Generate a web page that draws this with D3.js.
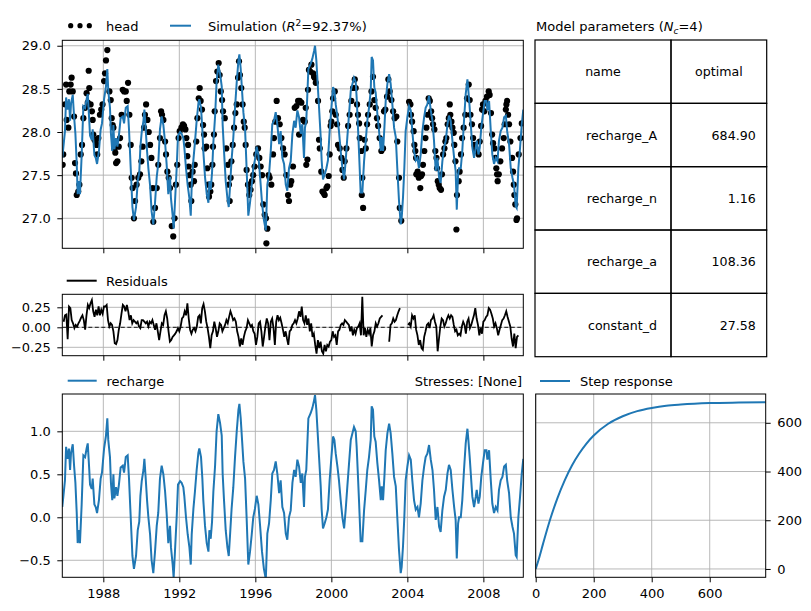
<!DOCTYPE html>
<html>
<head>
<meta charset="utf-8">
<style>
  body { margin: 0; background: #fff; }
  svg { display: block; font-family: "DejaVu Sans", sans-serif; }
</style>
</head>
<body>
<svg></svg>
<script src="https://cdn.jsdelivr.net/npm/d3@7"></script>
<script>
// ---- data (decimal years) ----
// recharge contribution [year, value]
const rechargeSeries = [
  [1985.84,0.12],[1985.98,0.43],[1986.04,0.82],[1986.12,0.68],[1986.19,0.80],[1986.25,0.55],[1986.30,0.75],[1986.39,0.85],
  [1986.46,0.60],[1986.53,0.40],[1986.60,0.05],[1986.65,-0.30],[1986.72,-0.15],[1986.77,-0.30],[1986.86,0.15],[1986.95,0.72],
  [1987.04,0.70],[1987.12,0.80],[1987.18,0.86],[1987.26,0.55],[1987.30,0.38],[1987.39,0.33],[1987.44,0.45],[1987.53,0.15],
  [1987.60,0.12],[1987.67,0.05],[1987.77,0.20],[1987.86,0.45],[1987.93,0.52],[1988.04,0.80],[1988.14,0.95],[1988.21,1.15],
  [1988.26,0.90],[1988.35,0.70],[1988.40,0.40],[1988.47,0.20],[1988.53,0.50],[1988.58,0.22],[1988.67,0.35],[1988.74,0.25],
  [1988.82,0.38],[1988.91,0.58],[1989.02,0.60],[1989.09,0.52],[1989.18,0.70],[1989.28,0.72],[1989.35,0.45],[1989.44,0.00],
  [1989.53,-0.45],[1989.61,-0.60],[1989.72,-0.45],[1989.81,-0.15],[1989.89,-0.05],[1989.95,0.25],[1990.02,0.42],[1990.11,0.55],
  [1990.16,0.68],[1990.23,0.45],[1990.30,0.20],[1990.37,0.00],[1990.46,-0.20],[1990.54,-0.50],[1990.63,-0.65],[1990.72,-0.40],
  [1990.81,-0.10],[1990.89,0.05],[1990.98,0.45],[1991.07,0.60],[1991.16,0.50],[1991.25,0.30],[1991.33,0.05],[1991.42,-0.30],
  [1991.51,-0.10],[1991.56,-0.35],[1991.65,-0.55],[1991.70,-0.70],[1991.77,-0.40],[1991.86,0.00],[1991.93,0.38],[1992.04,0.42],
  [1992.12,0.40],[1992.21,0.35],[1992.26,0.25],[1992.35,0.00],[1992.44,-0.20],[1992.53,-0.35],[1992.60,-0.55],[1992.65,-0.20],
  [1992.74,0.10],[1992.82,0.30],[1992.91,0.55],[1993.00,0.75],[1993.05,0.80],[1993.14,0.70],[1993.21,0.45],[1993.26,0.20],
  [1993.35,-0.10],[1993.44,-0.30],[1993.53,-0.40],[1993.58,-0.15],[1993.65,-0.25],[1993.72,-0.05],[1993.79,0.30],[1993.88,0.60],
  [1993.96,1.00],[1994.05,1.20],[1994.14,1.10],[1994.23,0.95],[1994.28,0.50],[1994.35,0.20],[1994.44,-0.15],[1994.53,-0.35],
  [1994.60,-0.45],[1994.67,-0.20],[1994.75,0.10],[1994.84,0.35],[1994.93,0.70],[1995.02,1.00],[1995.11,1.25],[1995.16,1.32],
  [1995.23,1.15],[1995.30,0.90],[1995.37,0.65],[1995.46,0.45],[1995.54,0.00],[1995.63,-0.55],[1995.72,-0.40],[1995.81,-0.20],
  [1995.89,0.00],[1995.98,0.10],[1996.07,0.25],[1996.16,0.15],[1996.25,-0.10],[1996.35,-0.40],[1996.45,-0.60],[1996.55,-0.72],
  [1996.63,-0.19],[1996.72,-0.07],[1996.81,0.20],[1996.89,0.51],[1996.98,0.55],[1997.07,0.65],[1997.16,0.50],[1997.25,0.28],
  [1997.33,0.43],[1997.42,0.12],[1997.51,0.05],[1997.60,-0.19],[1997.68,-0.26],[1997.77,0.00],[1997.86,0.08],[1997.95,0.40],
  [1998.04,0.55],[1998.12,0.47],[1998.21,0.67],[1998.30,0.59],[1998.39,0.40],[1998.47,0.51],[1998.56,0.12],[1998.61,0.47],
  [1998.68,0.55],[1998.79,1.15],[1998.91,1.21],[1999.00,1.27],[1999.09,1.36],[1999.14,1.42],[1999.21,1.25],[1999.28,0.98],
  [1999.35,0.71],[1999.44,0.36],[1999.49,0.09],[1999.56,-0.13],[1999.65,-0.07],[1999.74,0.00],[1999.82,0.09],[1999.91,0.43],
  [2000.00,0.69],[2000.09,0.94],[2000.16,0.90],[2000.23,0.74],[2000.32,0.59],[2000.40,0.43],[2000.49,0.20],[2000.58,0.00],
  [2000.67,-0.13],[2000.75,0.08],[2000.84,0.36],[2000.93,0.63],[2001.02,0.90],[2001.11,0.98],[2001.19,1.05],[2001.28,1.00],
  [2001.33,0.82],[2001.40,0.47],[2001.46,0.16],[2001.54,-0.28],[2001.63,-0.28],[2001.72,0.08],[2001.81,0.32],[2001.89,0.55],
  [2001.98,0.70],[2002.07,0.90],[2002.12,1.29],[2002.19,1.25],[2002.26,0.94],[2002.33,0.88],[2002.42,0.63],[2002.51,0.43],
  [2002.60,0.20],[2002.65,0.36],[2002.72,0.20],[2002.79,0.47],[2002.86,0.78],[2002.95,0.98],[2003.04,1.09],[2003.12,0.98],
  [2003.21,0.74],[2003.30,0.47],[2003.39,0.36],[2003.47,0.00],[2003.56,-0.38],[2003.65,-0.65],[2003.70,-0.58],[2003.77,-0.34],
  [2003.84,0.00],[2003.91,0.43],[2004.00,0.59],[2004.09,0.72],[2004.18,0.67],[2004.26,0.43],[2004.35,0.20],[2004.44,0.09],
  [2004.53,0.12],[2004.61,0.00],[2004.70,0.16],[2004.79,0.43],[2004.88,0.59],[2004.96,0.70],[2005.05,0.74],[2005.14,0.84],
  [2005.23,0.67],[2005.32,0.55],[2005.40,0.32],[2005.49,-0.03],[2005.58,0.12],[2005.67,-0.11],[2005.75,-0.17],[2005.84,0.08],
  [2005.93,0.24],[2006.02,0.32],[2006.11,0.51],[2006.19,0.61],[2006.28,0.55],[2006.37,0.32],[2006.46,0.12],[2006.54,-0.03],
  [2006.60,-0.48],[2006.67,-0.07],[2006.72,0.00],[2006.81,0.00],[2006.89,0.20],[2006.98,0.55],[2007.07,0.86],[2007.16,1.03],
  [2007.21,0.90],[2007.28,0.70],[2007.37,0.40],[2007.42,0.24],[2007.51,0.12],[2007.60,0.24],[2007.65,0.32],[2007.74,0.16],
  [2007.81,0.24],[2007.89,0.47],[2007.98,0.63],[2008.07,0.78],[2008.16,0.78],[2008.21,0.67],[2008.30,0.78],[2008.39,0.43],
  [2008.47,0.16],[2008.56,0.05],[2008.65,0.12],[2008.74,0.08],[2008.82,0.32],[2008.91,0.43],[2009.00,0.47],[2009.09,0.59],
  [2009.18,0.61],[2009.25,0.43],[2009.35,0.28],[2009.44,0.00],[2009.53,-0.11],[2009.61,-0.19],[2009.70,-0.44],[2009.75,-0.46],
  [2009.84,0.00],[2009.93,0.24],[2010.02,0.51],[2010.10,0.68]
];

// observed heads [year, head]
const headObs = [
  [1985.86,27.62],[1985.89,27.74],[1985.98,28.32],[1986.04,28.55],[1986.07,28.14],[1986.16,28.05],[1986.21,28.47],[1986.28,28.55],
  [1986.33,28.63],[1986.39,28.47],[1986.46,28.18],[1986.51,27.64],[1986.56,27.52],[1986.60,27.27],[1986.68,27.31],[1986.74,27.39],
  [1986.81,27.74],[1986.88,27.85],[1986.95,28.16],[1987.04,28.28],[1987.12,28.45],[1987.18,28.34],[1987.23,28.71],[1987.26,28.51],
  [1987.33,28.32],[1987.40,28.24],[1987.44,28.14],[1987.47,27.97],[1987.53,27.91],[1987.60,27.89],[1987.65,27.85],[1987.68,27.74],
  [1987.74,27.93],[1987.82,28.20],[1987.89,28.26],[1987.96,28.32],[1988.04,28.59],[1988.09,28.68],[1988.14,28.83],[1988.21,28.95],
  [1988.32,28.47],[1988.39,28.37],[1988.44,28.16],[1988.49,28.08],[1988.53,28.05],[1988.58,27.81],[1988.63,27.76],[1988.67,27.64],
  [1988.74,27.66],[1988.81,27.83],[1988.88,27.93],[1988.96,28.20],[1989.02,28.49],[1989.09,28.47],[1989.18,28.47],[1989.23,28.36],
  [1989.30,28.57],[1989.37,28.20],[1989.44,27.85],[1989.49,27.47],[1989.54,27.35],[1989.61,27.00],[1989.67,27.20],[1989.75,27.39],
  [1989.84,27.47],[1989.93,27.51],[1990.00,27.66],[1990.07,27.83],[1990.14,28.05],[1990.19,28.20],[1990.25,28.32],[1990.32,28.14],
  [1990.39,28.00],[1990.46,27.85],[1990.53,27.70],[1990.60,27.35],[1990.63,26.96],[1990.72,27.12],[1990.81,27.35],[1990.89,27.62],
  [1990.98,27.93],[1991.04,28.24],[1991.09,28.20],[1991.16,28.14],[1991.25,27.89],[1991.30,27.74],[1991.37,27.54],[1991.44,27.47],
  [1991.51,27.35],[1991.60,26.91],[1991.68,26.79],[1991.75,27.00],[1991.82,27.39],[1991.89,27.62],[1991.96,27.93],[1992.02,28.01],
  [1992.11,28.05],[1992.19,28.09],[1992.25,28.07],[1992.32,28.03],[1992.37,27.93],[1992.42,27.72],[1992.46,27.85],[1992.49,27.60],
  [1992.54,27.50],[1992.60,27.39],[1992.63,27.20],[1992.70,27.54],[1992.77,27.43],[1992.81,27.62],[1992.89,27.89],[1992.95,28.16],
  [1993.02,28.39],[1993.07,28.51],[1993.12,28.36],[1993.19,28.26],[1993.25,28.08],[1993.30,27.97],[1993.33,27.81],[1993.42,27.83],
  [1993.47,27.58],[1993.51,27.39],[1993.56,27.25],[1993.63,27.31],[1993.68,27.39],[1993.74,27.62],[1993.77,27.83],[1993.82,27.97],
  [1993.86,28.24],[1993.93,28.59],[1994.00,28.70],[1994.07,28.80],[1994.12,28.66],[1994.18,28.47],[1994.25,28.37],[1994.30,28.24],
  [1994.39,28.16],[1994.47,27.81],[1994.56,27.62],[1994.61,27.39],[1994.65,27.20],[1994.70,27.47],[1994.74,27.66],[1994.81,27.85],
  [1994.88,28.05],[1994.95,28.22],[1995.02,28.32],[1995.09,28.63],[1995.14,28.82],[1995.19,28.66],[1995.26,28.51],[1995.33,28.32],
  [1995.39,28.12],[1995.44,28.05],[1995.49,27.85],[1995.54,27.56],[1995.61,27.39],[1995.68,27.27],[1995.75,27.33],[1995.82,27.43],
  [1995.89,27.50],[1995.96,27.60],[1996.05,27.74],[1996.14,27.81],[1996.21,27.70],[1996.28,27.60],[1996.35,27.50],[1996.42,27.16],
  [1996.49,27.04],[1996.56,27.00],[1996.58,26.71],[1996.63,26.88],[1996.70,27.50],[1996.75,27.47],[1996.84,27.39],[1996.93,27.74],
  [1996.98,27.93],[1997.05,28.12],[1997.12,28.36],[1997.19,28.16],[1997.28,28.09],[1997.37,27.93],[1997.46,27.81],[1997.54,27.74],
  [1997.63,27.50],[1997.72,27.27],[1997.77,27.20],[1997.84,27.39],[1997.89,27.43],[1997.98,27.60],[1998.07,28.28],[1998.16,28.30],
  [1998.25,28.36],[1998.30,27.97],[1998.33,28.36],[1998.42,28.34],[1998.51,28.14],[1998.60,28.12],[1998.65,28.28],[1998.68,27.62],
  [1998.74,27.68],[1998.77,28.49],[1998.82,28.72],[1998.89,28.70],[1998.95,28.78],[1999.04,28.68],[1999.09,28.64],[1999.12,28.63],
  [1999.18,28.57],[1999.30,28.36],[1999.35,27.91],[1999.39,27.81],[1999.47,27.54],[1999.53,27.31],[1999.60,27.29],[1999.65,27.27],
  [1999.74,27.35],[1999.79,27.37],[1999.86,27.49],[1999.91,27.74],[1999.96,28.07],[2000.00,28.12],[2000.05,28.24],[2000.09,28.39],
  [2000.18,28.47],[2000.23,28.20],[2000.30,28.09],[2000.35,27.85],[2000.44,27.81],[2000.53,27.70],[2000.58,27.56],[2000.65,27.47],
  [2000.70,27.66],[2000.79,27.81],[2000.88,28.07],[2000.96,28.20],[2001.05,28.36],[2001.14,28.51],[2001.23,28.61],[2001.28,28.51],
  [2001.35,28.32],[2001.40,28.20],[2001.46,28.10],[2001.49,27.93],[2001.58,27.78],[2001.60,27.27],[2001.63,27.47],[2001.67,27.12],
  [2001.75,27.91],[2001.81,27.81],[2001.88,28.09],[2001.93,28.20],[2002.02,28.32],[2002.11,28.47],[2002.19,28.64],[2002.26,28.37],
  [2002.33,28.28],[2002.40,28.16],[2002.46,28.07],[2002.54,27.93],[2002.63,27.78],[2002.72,27.81],[2002.77,28.24],[2002.84,28.26],
  [2002.93,28.41],[2003.00,28.61],[2003.07,28.47],[2003.16,28.37],[2003.25,28.24],[2003.33,28.16],[2003.42,28.18],[2003.47,27.89],
  [2003.56,27.47],[2003.60,27.12],[2003.68,26.97],[2004.09,28.35],[2004.16,28.32],[2004.19,28.20],[2004.25,28.12],[2004.33,28.01],
  [2004.37,27.85],[2004.42,27.78],[2004.46,27.70],[2004.47,27.51],[2004.54,27.54],[2004.60,27.47],[2004.68,27.35],[2004.72,27.49],
  [2004.77,27.51],[2004.82,27.62],[2004.89,27.78],[2004.95,27.93],[2005.00,28.05],[2005.07,28.20],[2005.12,28.39],[2005.18,28.36],
  [2005.25,28.24],[2005.30,28.16],[2005.35,28.09],[2005.42,28.03],[2005.47,27.78],[2005.53,27.70],[2005.56,27.58],[2005.60,27.43],
  [2005.65,27.39],[2005.70,27.35],[2005.77,27.33],[2005.82,27.51],[2005.88,27.74],[2005.95,27.81],[2006.00,27.89],[2006.05,27.93],
  [2006.12,28.09],[2006.18,28.16],[2006.23,28.32],[2006.26,28.20],[2006.32,28.12],[2006.37,28.05],[2006.44,27.99],[2006.47,27.85],
  [2006.53,27.66],[2006.58,26.87],[2006.61,27.27],[2006.70,27.43],[2006.75,27.54],[2006.82,27.74],[2006.88,27.93],[2006.96,28.05],
  [2007.05,28.20],[2007.14,28.39],[2007.23,28.55],[2007.28,28.37],[2007.32,28.20],[2007.40,28.09],[2007.46,27.93],[2007.53,27.85],
  [2007.58,27.81],[2007.67,27.78],[2007.75,27.74],[2007.81,27.89],[2007.88,28.07],[2007.93,28.26],[2007.98,28.32],[2008.05,28.24],
  [2008.11,28.36],[2008.19,28.41],[2008.28,28.47],[2008.33,28.43],[2008.40,28.22],[2008.46,27.97],[2008.51,27.87],[2008.58,27.81],
  [2008.63,27.70],[2008.68,27.58],[2008.72,27.51],[2008.75,27.43],[2008.81,27.51],[2008.89,27.66],[2008.98,27.81],[2009.07,27.93],
  [2009.12,28.09],[2009.18,28.26],[2009.21,28.32],[2009.25,28.36],[2009.30,28.20],[2009.35,28.09],[2009.42,27.89],[2009.51,27.70],
  [2009.56,27.54],[2009.60,27.39],[2009.63,27.27],[2009.68,27.16],[2009.74,26.98],[2009.77,27.00],[2009.86,27.74],[2009.95,27.93],
  [2010.02,28.10]
];

// residuals, evenly spaced between resStart and resEnd (null = no observation)
const resStart = 1985.91, resEnd = 2009.84;
const residuals = [
  0.07,0.15,0.16,-0.15,0.26,0.24,0.09,0.05,-0.01,0.03,0.01,0.05,0.08,0.12,0.15,0.09,-0.03,0.15,0.28,0.24,
  0.30,0.34,0.20,0.13,0.22,0.15,0.26,0.15,0.22,0.17,0.26,0.26,0.28,0.09,0.01,0.05,0.03,-0.05,-0.20,-0.21,
  -0.16,-0.03,0.05,0.17,0.28,0.26,0.20,0.28,0.20,0.09,0.15,0.05,0.09,0.07,0.05,0.07,0.01,-0.01,0.09,0.09,
  0.07,0.05,0.07,0.01,0.07,0.05,0.09,0.03,-0.03,0.05,-0.05,-0.16,-0.05,0.05,0.03,0.15,0.20,0.11,-0.05,-0.18,
  -0.16,-0.12,-0.10,-0.08,-0.05,-0.01,-0.05,0.01,0.11,0.13,0.20,0.15,0.30,0.11,-0.03,-0.08,-0.03,-0.01,-0.05,0.01,
  0.13,0.15,0.05,0.24,0.29,0.20,0.07,-0.01,-0.12,-0.26,-0.10,-0.05,0.07,-0.01,-0.12,-0.05,0.05,0.03,-0.05,-0.01,
  0.03,0.09,0.05,0.13,0.20,0.15,0.09,0.11,0.07,-0.05,-0.12,-0.24,-0.14,-0.22,-0.12,-0.05,-0.01,0.09,0.05,0.01,
  0.03,-0.05,-0.08,-0.22,-0.12,0.05,0.07,-0.05,-0.24,-0.12,0.01,0.11,0.05,-0.16,0.07,0.11,-0.01,-0.22,0.07,0.15,
  0.09,0.12,0.05,-0.03,-0.12,-0.05,-0.14,-0.22,-0.05,-0.03,0.03,0.05,0.09,0.05,0.11,0.20,0.13,0.26,0.09,0.05,
  0.15,0.03,0.11,-0.05,0.05,-0.12,-0.08,-0.22,-0.33,-0.16,-0.26,-0.18,-0.30,-0.33,-0.22,-0.30,-0.22,-0.24,-0.18,-0.16,
  -0.05,-0.12,-0.10,-0.22,-0.05,-0.03,0.03,0.05,0.03,0.09,0.07,0.05,0.03,-0.05,0.01,-0.10,-0.03,-0.08,-0.01,0.01,
  0.05,-0.10,0.38,-0.10,-0.01,-0.12,-0.03,-0.08,-0.01,-0.24,-0.10,-0.05,0.05,0.01,0.05,0.11,0.13,0.15,null,null,
  null,null,-0.18,0.03,0.05,0.11,0.07,0.09,0.15,0.20,0.24,null,null,null,null,null,0.03,0.05,0.01,0.15,
  0.11,0.15,-0.03,-0.10,-0.22,-0.16,-0.26,-0.28,-0.12,-0.05,0.03,0.05,-0.01,0.09,0.11,0.15,0.07,0.01,-0.30,-0.14,
  0.01,0.11,0.09,0.01,0.05,0.11,0.15,0.11,0.15,0.13,0.03,-0.05,-0.03,-0.10,-0.08,-0.10,0.01,0.07,0.03,-0.08,
  0.07,0.11,-0.01,0.03,0.09,0.15,0.24,0.11,0.03,-0.10,-0.01,-0.08,0.07,0.09,0.13,0.15,0.24,0.22,0.17,0.11,
  0.01,0.05,-0.01,-0.10,-0.03,0.03,0.09,0.11,0.15,0.20,0.13,0.07,0.01,-0.14,-0.24,-0.08,-0.26,-0.12,-0.10
];

// step response [days, value]
const stepDays = [0, 10, 25, 50, 75, 100, 125, 150, 175, 200, 250, 300, 350, 400, 450, 500, 600, 700, 793];
const stepVals = [0, 38, 102, 204, 291, 364, 425, 474, 515, 548, 596, 627, 648, 661, 670, 675, 681, 683, 684];

// parameter table
const paramNames = ["recharge_A", "recharge_n", "recharge_a", "constant_d"];
const paramValues = ["684.90", "1.16", "108.36", "27.58"];
const fitR2 = "92.37%";

// axis limits and ticks
const timeLim = [1985.84, 2010.1];
const headLim = [26.652, 29.063];
const resLim = [-0.355, 0.4125];
const rechLim = [-0.698, 1.434];
const stepXLim = [0, 793];
const yearTicks = [1988, 1992, 1996, 2000, 2004, 2008];
const headTicks = [27.0, 27.5, 28.0, 28.5, 29.0];
const resTicks = [-0.25, 0, 0.25];
const rechTicks = [-0.5, 0, 0.5, 1.0];
const stepTicks = [0, 200, 400, 600];

// ---- drawing ----
const W = 811, H = 611;
const blue = '#1f77b4', gridCol = '#b0b0b0';
const FS = 13;
const svg = d3.select('svg').attr('width', W).attr('height', H);

function toDate(y) {
  const yr = Math.floor(y);
  const s = new Date(yr, 0, 1), e = new Date(yr + 1, 0, 1);
  return new Date(+s + (y - yr) * (e - s));
}

const boxHead = {l: 62.3, r: 523.3, t: 40.3, b: 248.3};
const boxRes  = {l: 62.3, r: 523.3, t: 294.3, b: 355.7};
const boxRech = {l: 62.3, r: 523.3, t: 394, b: 577.3};
const boxStep = {l: 535.7, r: 765.7, t: 394, b: 577.3};

const x = d3.scaleTime().domain(timeLim.map(toDate)).range([boxHead.l, boxHead.r]);
const yHead = d3.scaleLinear().domain(headLim).range([boxHead.b, boxHead.t]);
const yRes = d3.scaleLinear().domain(resLim).range([boxRes.b, boxRes.t]);
const yRech = d3.scaleLinear().domain(rechLim).range([boxRech.b, boxRech.t]);

const stepMax = d3.max(stepVals);
const xStep = d3.scaleLinear().domain(stepXLim).range([boxStep.l, boxStep.r]);
const yStep = d3.scaleLinear().domain([-0.05 * stepMax, stepMax * 1.05]).range([boxStep.b, boxStep.t]);

const defs = svg.append('defs');
function clip(id, b) {
  defs.append('clipPath').attr('id', id).append('rect')
    .attr('x', b.l).attr('y', b.t).attr('width', b.r - b.l).attr('height', b.b - b.t);
  return 'url(#' + id + ')';
}

function grid(b, xs, xv, ys, yv) {
  const g = svg.append('g').attr('stroke', gridCol).attr('stroke-width', 0.9);
  g.selectAll('.gx').data(xv).join('line')
    .attr('x1', d => xs(d)).attr('x2', d => xs(d)).attr('y1', b.t).attr('y2', b.b);
  g.selectAll('.gy').data(yv).join('line')
    .attr('x1', b.l).attr('x2', b.r).attr('y1', d => ys(d)).attr('y2', d => ys(d));
}

function frame(b) {
  svg.append('rect').attr('x', b.l).attr('y', b.t).attr('width', b.r - b.l).attr('height', b.b - b.t)
    .attr('fill', 'none').attr('stroke', '#000').attr('stroke-width', 1);
}

function styleAxis(g) {
  g.attr('font-size', FS).attr('font-family', '"DejaVu Sans", sans-serif');
  g.select('.domain').remove();
  g.selectAll('.tick line').attr('stroke', '#000').attr('stroke-width', 1);
  g.selectAll('.tick text').attr('fill', '#000');
}

const yearDates = yearTicks.map(toDate);

// top panel: heads + simulation
const constantD = +paramValues[3];
const simulation = rechargeSeries.map(d => [d[0], d[1] + constantD]);

grid(boxHead, x, yearDates, yHead, headTicks);
const gHead = svg.append('g').attr('clip-path', clip('cHead', boxHead));
gHead.selectAll('circle').data(headObs).join('circle')
  .attr('cx', d => x(toDate(d[0]))).attr('cy', d => yHead(d[1])).attr('r', 3.1).attr('fill', '#000');
gHead.append('path').datum(simulation)
  .attr('d', d3.line().x(d => x(toDate(d[0]))).y(d => yHead(d[1])))
  .attr('fill', 'none').attr('stroke', blue).attr('stroke-width', 2);
frame(boxHead);
svg.append('g').attr('transform', `translate(${boxHead.l},0)`)
  .call(d3.axisLeft(yHead).tickValues(headTicks).tickFormat(d3.format('.1f')).tickSize(5).tickPadding(6.5)).call(styleAxis);
svg.append('g').attr('transform', `translate(0,${boxHead.b})`)
  .call(d3.axisBottom(x).tickValues(yearDates).tickFormat('').tickSize(5)).call(styleAxis);

// residual panel
grid(boxRes, x, yearDates, yRes, resTicks);
const nRes = residuals.length;
const resDates = residuals.map((v, i) => resStart + (resEnd - resStart) * i / (nRes - 1));
const gRes = svg.append('g').attr('clip-path', clip('cRes', boxRes));
gRes.append('line').attr('x1', boxRes.l).attr('x2', boxRes.r).attr('y1', yRes(0)).attr('y2', yRes(0))
  .attr('stroke', '#000').attr('stroke-width', 0.9).attr('stroke-dasharray', '4,2.5');
gRes.append('path').datum(residuals.map((v, i) => [resDates[i], v]))
  .attr('d', d3.line().defined(d => d[1] !== null).x(d => x(toDate(d[0]))).y(d => yRes(d[1])))
  .attr('fill', 'none').attr('stroke', '#000').attr('stroke-width', 1.8);
frame(boxRes);
svg.append('g').attr('transform', `translate(${boxRes.l},0)`)
  .call(d3.axisLeft(yRes).tickValues(resTicks).tickFormat(d3.format('.2f')).tickSize(5).tickPadding(6.5)).call(styleAxis);
svg.append('g').attr('transform', `translate(0,${boxRes.b})`)
  .call(d3.axisBottom(x).tickValues(yearDates).tickFormat('').tickSize(5)).call(styleAxis);

// recharge panel
grid(boxRech, x, yearDates, yRech, rechTicks);
svg.append('g').attr('clip-path', clip('cRech', boxRech)).append('path').datum(rechargeSeries)
  .attr('d', d3.line().x(d => x(toDate(d[0]))).y(d => yRech(d[1])))
  .attr('fill', 'none').attr('stroke', blue).attr('stroke-width', 2);
frame(boxRech);
svg.append('g').attr('transform', `translate(${boxRech.l},0)`)
  .call(d3.axisLeft(yRech).tickValues(rechTicks).tickFormat(d3.format('.1f')).tickSize(5).tickPadding(6.5)).call(styleAxis);
svg.append('g').attr('transform', `translate(0,${boxRech.b})`)
  .call(d3.axisBottom(x).tickValues(yearDates).tickFormat(d3.timeFormat('%Y')).tickSize(5).tickPadding(6.5)).call(styleAxis);

// step response panel
grid(boxStep, xStep, stepTicks, yStep, stepTicks);
svg.append('g').attr('clip-path', clip('cStep', boxStep)).append('path')
  .datum(stepDays.map((t, i) => [t, stepVals[i]]))
  .attr('d', d3.line().curve(d3.curveMonotoneX).x(d => xStep(d[0])).y(d => yStep(d[1])))
  .attr('fill', 'none').attr('stroke', blue).attr('stroke-width', 2);
frame(boxStep);
svg.append('g').attr('transform', `translate(${boxStep.r},0)`)
  .call(d3.axisRight(yStep).tickValues(stepTicks).tickSize(5).tickPadding(6.5)).call(styleAxis);
svg.append('g').attr('transform', `translate(0,${boxStep.b})`)
  .call(d3.axisBottom(xStep).tickValues(stepTicks).tickSize(5).tickPadding(6.5)).call(styleAxis);

// legends
const lg = svg.append('g').attr('font-size', FS).attr('fill', '#000');
lg.selectAll('.hd').data([70.7, 80, 89.3]).join('circle')
  .attr('cx', d => d).attr('cy', 25.7).attr('r', 2.6).attr('fill', '#000');
lg.append('text').attr('x', 106).attr('y', 30.5).text('head');
lg.append('line').attr('x1', 170).attr('x2', 191).attr('y1', 25.7).attr('y2', 25.7).attr('stroke', blue).attr('stroke-width', 2);
const simText = lg.append('text').attr('x', 208).attr('y', 30.5);
simText.append('tspan').text('Simulation (');
simText.append('tspan').attr('font-style', 'italic').text('R');
simText.append('tspan').attr('font-size', 9).attr('dy', -5).text('2');
simText.append('tspan').attr('dy', 5).text('=' + fitR2 + ')');

lg.append('line').attr('x1', 66.7).attr('x2', 96.7).attr('y1', 280.7).attr('y2', 280.7).attr('stroke', '#000').attr('stroke-width', 2);
lg.append('text').attr('x', 106).attr('y', 285.5).text('Residuals');

lg.append('line').attr('x1', 67.7).attr('x2', 96.7).attr('y1', 380.7).attr('y2', 380.7).attr('stroke', blue).attr('stroke-width', 2);
lg.append('text').attr('x', 106.5).attr('y', 385.5).text('recharge');
lg.append('text').attr('x', 522).attr('y', 385.5).attr('text-anchor', 'end').text('Stresses: [None]');

lg.append('line').attr('x1', 540).attr('x2', 570).attr('y1', 381).attr('y2', 381).attr('stroke', blue).attr('stroke-width', 2);
lg.append('text').attr('x', 580).attr('y', 385.5).text('Step response');

// parameter table
const tb = {l: 535, r: 766.7, t: 40, b: 356.7, mid: 671};
const title = svg.append('text').attr('x', 536).attr('y', 31).attr('font-size', FS);
title.append('tspan').text('Model parameters (');
title.append('tspan').attr('font-style', 'italic').text('N');
title.append('tspan').attr('font-style', 'italic').attr('font-size', 9).attr('dy', 3).text('c');
title.append('tspan').attr('dy', -3).text('=4)');

const rows = [['name', 'optimal']].concat(paramNames.map((n, i) => [n, paramValues[i]]));
const rowH = (tb.b - tb.t) / rows.length;
const tg = svg.append('g').attr('font-size', 12.6);
rows.forEach((r, i) => {
  const y0 = tb.t + i * rowH;
  tg.append('rect').attr('x', tb.l).attr('y', y0).attr('width', tb.mid - tb.l).attr('height', rowH)
    .attr('fill', 'none').attr('stroke', '#000').attr('stroke-width', 1.2);
  tg.append('rect').attr('x', tb.mid).attr('y', y0).attr('width', tb.r - tb.mid).attr('height', rowH)
    .attr('fill', 'none').attr('stroke', '#000').attr('stroke-width', 1.2);
  const cy = y0 + rowH / 2 + 4.5;
  if (i === 0) {
    tg.append('text').attr('x', (tb.l + tb.mid) / 2).attr('y', cy).attr('text-anchor', 'middle').text(r[0]);
    tg.append('text').attr('x', (tb.mid + tb.r) / 2).attr('y', cy).attr('text-anchor', 'middle').text(r[1]);
  } else {
    tg.append('text').attr('x', tb.mid - 14).attr('y', cy).attr('text-anchor', 'end').text(r[0]);
    tg.append('text').attr('x', tb.r - 11).attr('y', cy).attr('text-anchor', 'end').text(r[1]);
  }
});
</script>
</body>
</html>
